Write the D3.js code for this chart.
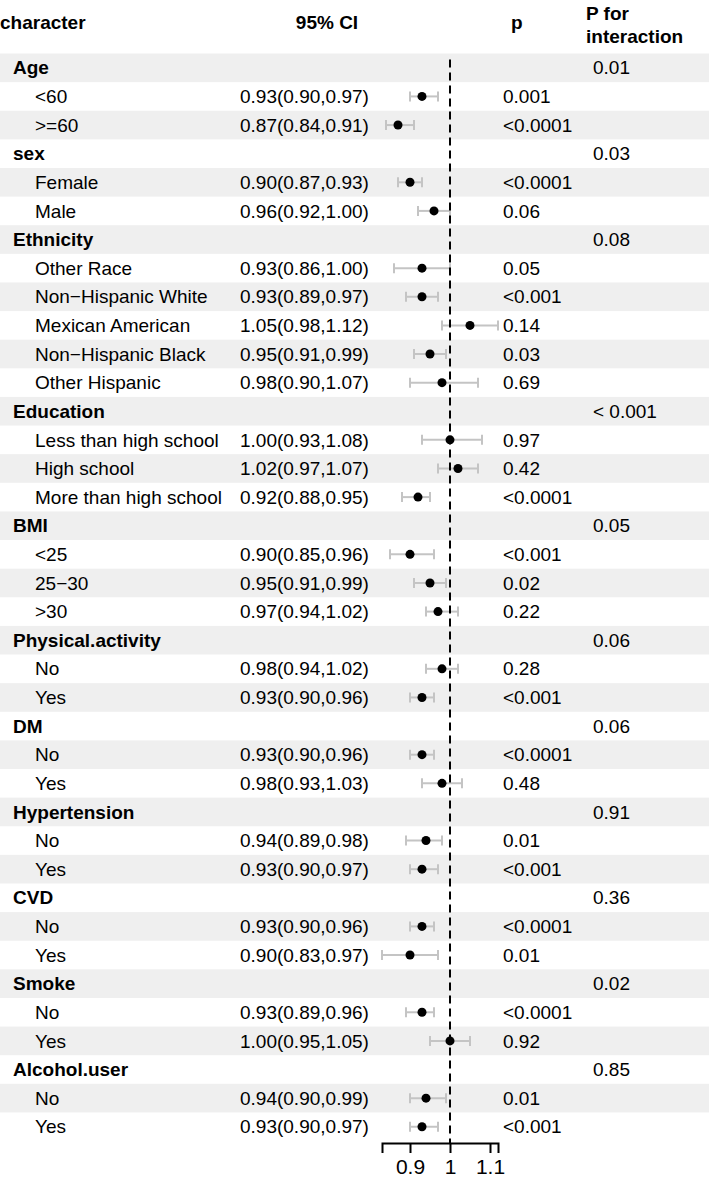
<!DOCTYPE html>
<html>
<head>
<meta charset="utf-8">
<script src="https://cdn.jsdelivr.net/npm/d3@7"></script>
<style>
body{margin:0;background:#fff;}
text{font-family:"Liberation Sans",Arial,sans-serif;font-size:19px;fill:#000;}
</style>
</head>
<body>
<div id="plot"></div>
<script>
// table rows (group header rows have null estimates)
var characters = ["Age","<60",">=60","sex","Female","Male","Ethnicity","Other Race","Non\u2212Hispanic White","Mexican American","Non\u2212Hispanic Black","Other Hispanic","Education","Less than high school","High school","More than high school","BMI","<25","25\u221230",">30","Physical.activity","No","Yes","DM","No","Yes","Hypertension","No","Yes","CVD","No","Yes","Smoke","No","Yes","Alcohol.user","No","Yes"];
var est = [null,0.93,0.87,null,0.90,0.96,null,0.93,0.93,1.05,0.95,0.98,null,1.00,1.02,0.92,null,0.90,0.95,0.97,null,0.98,0.93,null,0.93,0.98,null,0.94,0.93,null,0.93,0.90,null,0.93,1.00,null,0.94,0.93];
var lower = [null,0.90,0.84,null,0.87,0.92,null,0.86,0.89,0.98,0.91,0.90,null,0.93,0.97,0.88,null,0.85,0.91,0.94,null,0.94,0.90,null,0.90,0.93,null,0.89,0.90,null,0.90,0.83,null,0.89,0.95,null,0.90,0.90];
var upper = [null,0.97,0.91,null,0.93,1.00,null,1.00,0.97,1.12,0.99,1.07,null,1.08,1.07,0.95,null,0.96,0.99,1.02,null,1.02,0.96,null,0.96,1.03,null,0.98,0.97,null,0.96,0.97,null,0.96,1.05,null,0.99,0.97];
var pval = ["","0.001","<0.0001","","<0.0001","0.06","","0.05","<0.001","0.14","0.03","0.69","","0.97","0.42","<0.0001","","<0.001","0.02","0.22","","0.28","<0.001","","<0.0001","0.48","","0.01","<0.001","","<0.0001","0.01","","<0.0001","0.92","","0.01","<0.001"];
var pInter = ["0.01","","","0.03","","","0.08","","","","","","< 0.001","","","","0.05","","","","0.06","","","0.06","","","0.91","","","0.36","","","0.02","","","0.85","",""];
var axisTicks = [0.9,1,1.1];

var width = 709, height = 1181;
var rowH = 28.62, top0 = 53.5;

var svg = d3.select('#plot').append('svg')
	.attr('width',width)
	.attr('height',height);

var y = d3.scaleBand()
	.domain(d3.range(characters.length))
	.range([top0, top0+rowH*characters.length]);

var x = d3.scaleLinear().domain([0.9,1.1]).range([410,490]);

// background stripes
svg.selectAll('rect.band')
	.data(d3.range(characters.length).filter(function(i){return i%2==0;}))
	.enter().append('rect')
	.attr('class','band')
	.attr('x',0).attr('width',width)
	.attr('y',function(i){return y(i);})
	.attr('height',y.bandwidth())
	.style('fill','#efefef');

// header
var hdr = svg.append('g');
hdr.append('text').attr('x',0).attr('y',29).text('character').style('font-weight','bold');
hdr.append('text').attr('x',327).attr('y',29).attr('text-anchor','middle').text('95% CI').style('font-weight','bold');
hdr.append('text').attr('x',511).attr('y',29).text('p').style('font-weight','bold');
hdr.append('text').attr('x',586).attr('y',20).text('P for').style('font-weight','bold');
hdr.append('text').attr('x',586).attr('y',43).text('interaction').style('font-weight','bold');

var rows = svg.selectAll('g.row')
	.data(d3.range(characters.length))
	.enter().append('g')
	.attr('class','row')
	.attr('transform',function(i){return 'translate(0,'+(y(i)+y.bandwidth()/2)+')';});

rows.append('text')
	.attr('x',function(i){return est[i]==null ? 13 : 35;})
	.attr('dy','0.35em')
	.style('font-weight',function(i){return est[i]==null ? 'bold' : 'normal';})
	.text(function(i){return characters[i];});

rows.append('text')
	.attr('x',240).attr('dy','0.35em')
	.text(function(i){
		if(est[i]==null) return '';
		return est[i].toFixed(2)+'('+lower[i].toFixed(2)+','+upper[i].toFixed(2)+')';
	});

rows.append('text')
	.attr('x',503).attr('dy','0.35em')
	.text(function(i){return pval[i];});

rows.append('text')
	.attr('x',593).attr('dy','0.35em')
	.text(function(i){return pInter[i];});

// reference line
var axisY = 1143;
svg.append('line')
	.attr('x1',x(1)).attr('x2',x(1))
	.attr('y1',top0+6).attr('y2',axisY)
	.style('stroke','#000').style('stroke-width',2)
	.style('stroke-dasharray','8,5');

// error bars and points
var est_rows = rows.filter(function(i){return est[i]!=null;});
est_rows.append('line')
	.attr('x1',function(i){return x(lower[i]);})
	.attr('x2',function(i){return x(upper[i]);})
	.style('stroke','#c4c4c4').style('stroke-width',2);
est_rows.append('line')
	.attr('x1',function(i){return x(lower[i]);})
	.attr('x2',function(i){return x(lower[i]);})
	.attr('y1',-5).attr('y2',5)
	.style('stroke','#c4c4c4').style('stroke-width',2);
est_rows.append('line')
	.attr('x1',function(i){return x(upper[i]);})
	.attr('x2',function(i){return x(upper[i]);})
	.attr('y1',-5).attr('y2',5)
	.style('stroke','#c4c4c4').style('stroke-width',2);
est_rows.append('circle')
	.attr('cx',function(i){return x(est[i]);})
	.attr('r',4.5)
	.style('fill','#000');

// x axis
var xa = d3.scaleLinear().domain([0.83,1.12]).range([x(0.83),x(1.12)]);
var ax = svg.append('g')
	.attr('transform','translate(0,'+axisY+')')
	.call(d3.axisBottom(xa).tickValues(axisTicks).tickFormat(d3.format('')).tickSizeOuter(0).tickSize(10).tickPadding(6));
ax.select('.domain').style('stroke','#000').style('stroke-width',2);
ax.selectAll('.tick line').style('stroke','#000').style('stroke-width',2);
ax.selectAll('.tick text').style('font-family','"Liberation Sans",Arial,sans-serif').style('font-size','21px').style('fill','#000');
</script>
</body>
</html>
